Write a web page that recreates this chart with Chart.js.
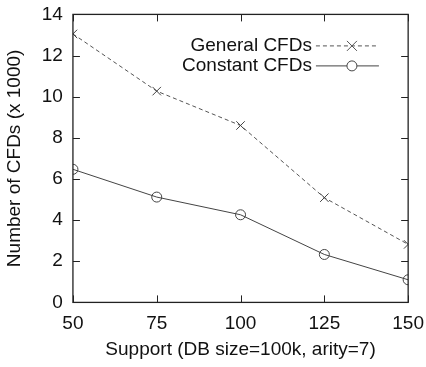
<!DOCTYPE html>
<html>
<head>
<meta charset="utf-8">
<script src="https://cdn.jsdelivr.net/npm/chart.js@4/dist/chart.umd.min.js"></script>
<style>
  html, body { margin: 0; padding: 0; background: #fff; overflow: hidden; }
  #wrap { width: 426px; height: 367px; overflow: hidden; position: relative; }
  #cfdChart { position: absolute; left: 0; top: -7px; }
</style>
</head>
<body>
<div id="wrap"><canvas id="cfdChart" width="434" height="372"></canvas></div>
<script>
// Support thresholds (x axis)
const supports = [50, 75, 100, 125, 150];
// Number of CFDs (x 1000)
const generalCFDs = [13.05, 10.27, 8.6, 5.09, 2.82];
const constantCFDs = [6.47, 5.12, 4.26, 2.33, 1.1];
const yTicks = [0, 2, 4, 6, 8, 10, 12, 14];
const seriesNames = ['General CFDs', 'Constant CFDs'];

const ink = '#222';
const fontFamily = '"Liberation Sans", Arial, sans-serif';

// gnuplot-style inward ticks on all four sides, plus the frame
const inwardTicks = {
    id: 'inwardTicks',
    afterDraw(chart) {
        const c = chart.ctx;
        const area = chart.chartArea;
        const len = 7;
        const xs = chart.scales.x;
        const ys = chart.scales.y;
        c.save();
        c.fillStyle = ink;
        supports.forEach(v => {
            const px = Math.round(xs.getPixelForValue(v));
            c.fillRect(px, area.bottom - len, 1, len);
            c.fillRect(px, area.top, 1, len);
        });
        yTicks.forEach(v => {
            const py = Math.round(ys.getPixelForValue(v));
            c.fillRect(area.left, py, len, 1);
            c.fillRect(area.right - len, py, len, 1);
        });
        c.strokeStyle = ink;
        c.lineWidth = 1.3;
        c.strokeRect(area.left, area.top, area.right - area.left, area.bottom - area.top);
        c.restore();
    }
};

// Legend inside the plot, text right-aligned with a sample line to its right
const insideLegend = {
    id: 'insideLegend',
    afterDatasetsDraw(chart) {
        const c = chart.ctx;
        const area = chart.chartArea;
        const textRight = area.left + 239;
        const lineStart = textRight + 4;
        const lineEnd = textRight + 67;
        const mx = area.left + 279;
        c.save();
        c.font = '19px ' + fontFamily;
        c.textAlign = 'right';
        c.textBaseline = 'middle';
        chart.data.datasets.forEach((ds, i) => {
            const y = area.top + 31 + i * 20;
            c.fillStyle = '#111';
            c.fillText(ds.label, textRight, y);
            c.strokeStyle = ds.borderColor;
            c.lineWidth = 1;
            c.setLineDash(ds.borderDash || []);
            c.beginPath();
            c.moveTo(lineStart, y + 0.5);
            c.lineTo(lineEnd, y + 0.5);
            c.stroke();
            c.setLineDash([]);
            c.beginPath();
            if (ds.pointStyle === 'circle') {
                c.fillStyle = '#fff';
                c.arc(mx, y + 0.5, 5, 0, Math.PI * 2);
                c.fill();
            } else {
                c.moveTo(mx - 5, y - 4.5); c.lineTo(mx + 5, y + 5.5);
                c.moveTo(mx - 5, y + 5.5); c.lineTo(mx + 5, y - 4.5);
            }
            c.stroke();
        });
        c.restore();
    }
};

const ctx = document.getElementById('cfdChart').getContext('2d');
const cfdChart = new Chart(ctx, {
    type: 'line',
    data: {
        datasets: [
            {
                label: seriesNames[0],
                data: supports.map((s, i) => ({ x: s, y: generalCFDs[i] })),
                borderColor: '#555',
                borderWidth: 1,
                borderDash: [4, 3],
                pointStyle: 'crossRot',
                pointRadius: 6,
                pointBorderColor: '#444',
                pointBorderWidth: 1,
                fill: false,
                tension: 0
            },
            {
                label: seriesNames[1],
                data: supports.map((s, i) => ({ x: s, y: constantCFDs[i] })),
                borderColor: '#444',
                borderWidth: 1,
                pointStyle: 'circle',
                pointRadius: 5,
                pointBackgroundColor: 'rgba(255,255,255,0)',
                pointBorderColor: '#444',
                pointBorderWidth: 1,
                fill: false,
                tension: 0
            }
        ]
    },
    options: {
        responsive: false,
        animation: false,
        layout: { padding: { top: 0, right: 0, left: 3, bottom: 4 } },
        plugins: {
            legend: { display: false },
            tooltip: { enabled: false }
        },
        scales: {
            x: {
                type: 'linear',
                min: 50,
                max: 150,
                grid: { display: false, drawTicks: false },
                border: { display: false },
                ticks: {
                    stepSize: 25,
                    padding: 10,
                    color: '#111',
                    font: { family: fontFamily, size: 19 },
                    maxRotation: 0
                },
                title: {
                    display: true,
                    text: 'Support (DB size=100k, arity=7)',
                    color: '#111',
                    font: { family: fontFamily, size: 19 },
                    padding: { top: -7, bottom: 0 }
                }
            },
            y: {
                min: 0,
                max: 14,
                grid: { display: false, drawTicks: false },
                border: { display: false },
                ticks: {
                    stepSize: 2,
                    padding: 10,
                    color: '#111',
                    font: { family: fontFamily, size: 19 }
                },
                title: {
                    display: true,
                    text: 'Number of CFDs (x 1000)',
                    color: '#111',
                    font: { family: fontFamily, size: 19 },
                    padding: { top: 0, bottom: 6 }
                }
            }
        }
    },
    plugins: [inwardTicks, insideLegend]
});
</script>
</body>
</html>
